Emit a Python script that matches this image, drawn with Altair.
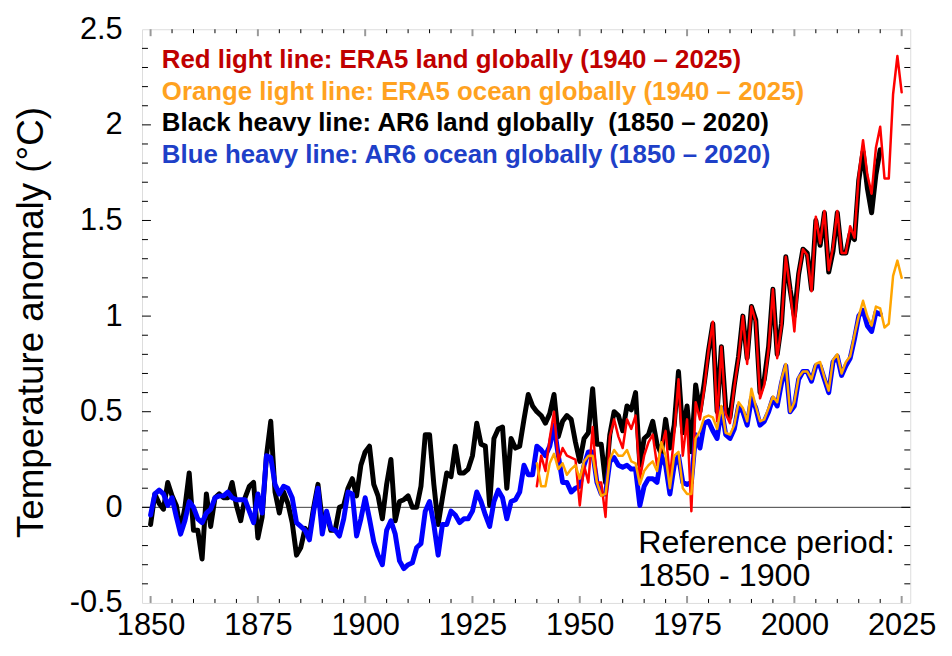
import altair as alt
import pandas as pd

# ---------------- data ----------------
ar6_years = list(range(1850, 2021))
ar6_land = [
    -0.09, 0.07, 0.02, -0.01, 0.13, 0.06, 0.01, -0.12, 0.00, 0.18,      # 1850-1859
    -0.12, -0.12, -0.27, 0.07, -0.10, 0.05, 0.07, 0.05, 0.05, 0.13,     # 1860-1869
    0.01, -0.07, 0.05, 0.11, 0.13, -0.16, -0.05, 0.27, 0.45, 0.08,      # 1870-1879
    -0.03, 0.08, 0.02, -0.08, -0.25, -0.21, -0.11, -0.14, 0.00, 0.12,   # 1880-1889
    -0.07, -0.03, -0.12, -0.12, 0.00, 0.01, 0.10, 0.15, 0.06, 0.22,     # 1890-1899
    0.29, 0.32, 0.12, 0.06, -0.06, 0.12, 0.25, -0.07, 0.03, 0.04,       # 1900-1909
    0.06, 0.00, 0.00, 0.11, 0.38, 0.38, 0.12, -0.09, 0.05, 0.18,        # 1910-1919
    0.16, 0.32, 0.18, 0.18, 0.20, 0.27, 0.44, 0.33, 0.32, 0.01,         # 1920-1929
    0.36, 0.41, 0.42, 0.10, 0.36, 0.31, 0.32, 0.46, 0.59, 0.53,         # 1930-1939
    0.50, 0.48, 0.44, 0.49, 0.59, 0.37, 0.45, 0.48, 0.46, 0.34,         # 1940-1949
    0.24, 0.36, 0.39, 0.62, 0.33, 0.33, 0.13, 0.38, 0.50, 0.48,         # 1950-1959
    0.40, 0.53, 0.51, 0.60, 0.22, 0.36, 0.38, 0.45, 0.33, 0.28,         # 1960-1969
    0.46, 0.31, 0.43, 0.71, 0.39, 0.53, 0.29, 0.64, 0.50, 0.65,         # 1970-1979
    0.82, 0.96, 0.50, 0.84, 0.52, 0.47, 0.64, 0.79, 1.00, 0.78,         # 1980-1989
    1.05, 0.98, 0.60, 0.67, 0.84, 1.14, 0.80, 0.96, 1.31, 1.14,         # 1990-1999
    1.00, 1.22, 1.35, 1.33, 1.14, 1.50, 1.37, 1.54, 1.23, 1.34,         # 2000-2009
    1.54, 1.33, 1.33, 1.43, 1.40, 1.71, 1.86, 1.67, 1.54, 1.74,         # 2010-2019
    1.87,                                                               # 2020
]
ar6_ocean = [
    -0.04, 0.07, 0.09, 0.07, 0.01, 0.05, -0.05, -0.14, -0.07, 0.03,     # 1850-1859
    0.00, -0.06, -0.08, -0.03, -0.01, 0.05, 0.06, 0.06, 0.08, 0.05,     # 1860-1869
    0.04, 0.04, 0.04, -0.02, -0.08, 0.07, -0.03, 0.27, 0.26, 0.12,      # 1870-1879
    0.07, 0.11, 0.10, 0.05, -0.08, -0.10, -0.12, -0.17, -0.02, 0.10,    # 1880-1889
    -0.14, -0.02, -0.11, -0.12, -0.15, -0.06, 0.08, 0.07, -0.15, -0.06, # 1890-1899
    0.05, -0.06, -0.18, -0.25, -0.30, -0.12, -0.07, -0.14, -0.28, -0.32,# 1900-1909
    -0.30, -0.29, -0.21, -0.19, -0.02, 0.03, -0.09, -0.25, -0.09, -0.09,# 1910-1919
    -0.02, -0.04, -0.08, -0.06, -0.06, -0.02, 0.08, 0.03, -0.04, -0.10, # 1920-1929
    0.03, 0.09, 0.05, -0.06, 0.03, 0.04, 0.08, 0.22, 0.17, 0.17,        # 1930-1939
    0.32, 0.30, 0.27, 0.32, 0.43, 0.27, 0.13, 0.13, 0.08, 0.10,         # 1940-1949
    0.11, 0.22, 0.29, 0.29, 0.13, 0.07, 0.07, 0.24, 0.26, 0.22,         # 1950-1959
    0.21, 0.22, 0.20, 0.20, 0.01, 0.11, 0.15, 0.15, 0.13, 0.27,         # 1960-1969
    0.22, 0.07, 0.22, 0.27, 0.13, 0.12, 0.13, 0.38, 0.31, 0.44,         # 1970-1979
    0.45, 0.40, 0.36, 0.52, 0.38, 0.36, 0.41, 0.53, 0.50, 0.43,         # 1980-1989
    0.57, 0.52, 0.43, 0.45, 0.50, 0.57, 0.53, 0.65, 0.74, 0.50,         # 1990-1999
    0.53, 0.67, 0.71, 0.71, 0.66, 0.74, 0.74, 0.67, 0.60, 0.76,         # 2000-2009
    0.79, 0.69, 0.74, 0.78, 0.88, 1.00, 1.03, 0.95, 0.92, 1.02,         # 2010-2019
    1.01,                                                               # 2020
]
era5_years = list(range(1940, 2026))
era5_land = [
    0.11, 0.27, 0.19, 0.36, 0.50, 0.24, 0.31, 0.27, 0.26, 0.25,         # 1940-1949
    0.01, 0.22, 0.13, 0.42, 0.13, 0.13, -0.05, 0.37, 0.46, 0.37,        # 1950-1959
    0.31, 0.46, 0.41, 0.48, 0.15, 0.27, 0.34, 0.38, 0.22, 0.31,         # 1960-1969
    0.40, 0.15, 0.38, 0.67, 0.27, 0.46, -0.02, 0.55, 0.46, 0.62,        # 1970-1979
    0.82, 0.97, 0.45, 0.84, 0.49, 0.44, 0.63, 0.78, 1.00, 0.75,         # 1980-1989
    1.05, 0.97, 0.57, 0.64, 0.83, 1.14, 0.78, 0.95, 1.31, 1.14,         # 1990-1999
    0.92, 1.22, 1.35, 1.32, 1.13, 1.52, 1.38, 1.55, 1.24, 1.36,         # 2000-2009
    1.55, 1.33, 1.33, 1.47, 1.41, 1.74, 1.92, 1.74, 1.64, 1.88,         # 2010-2019
    1.99, 1.72, 1.72, 2.16, 2.36, 2.17,                                 # 2020-2025
]
era5_ocean = [
    0.23, 0.11, 0.11, 0.23, 0.28, 0.20, 0.23, 0.17, 0.20, 0.22,         # 1940-1949
    0.15, 0.24, 0.27, 0.27, 0.13, 0.06, 0.07, 0.25, 0.30, 0.27,         # 1950-1959
    0.27, 0.30, 0.24, 0.23, 0.12, 0.19, 0.22, 0.24, 0.19, 0.34,         # 1960-1969
    0.27, 0.10, 0.27, 0.29, 0.10, 0.07, 0.07, 0.36, 0.40, 0.47,         # 1970-1979
    0.48, 0.47, 0.41, 0.53, 0.39, 0.38, 0.43, 0.55, 0.52, 0.45,         # 1980-1989
    0.62, 0.53, 0.45, 0.46, 0.52, 0.58, 0.55, 0.67, 0.75, 0.50,         # 1990-1999
    0.55, 0.68, 0.71, 0.71, 0.67, 0.75, 0.76, 0.68, 0.61, 0.77,         # 2000-2009
    0.80, 0.70, 0.76, 0.79, 0.90, 1.00, 1.08, 1.00, 0.95, 1.05,         # 2010-2019
    1.04, 0.94, 0.96, 1.21, 1.29, 1.20,                                 # 2020-2025
]
assert len(ar6_land) == len(ar6_years) == len(ar6_ocean)
assert len(era5_land) == len(era5_years) == len(era5_ocean)

x_label_values = [1850, 1875, 1900, 1925, 1950, 1975, 2000, 2025]
x_minor_ticks = [1855, 1860, 1865, 1870, 1880, 1885, 1890, 1895, 1905, 1910,
                 1915, 1920, 1930, 1935, 1940, 1945, 1955, 1960, 1965, 1970,
                 1980, 1985, 1990, 1995, 2005, 2010, 2015, 2020]
y_label_values = [-0.5, 0, 0.5, 1, 1.5, 2, 2.5]
y_major_ticks = [0, 0.5, 1, 1.5, 2]
y_minor_ticks = [-0.4, -0.3, -0.2, -0.1, 0.1, 0.2, 0.3, 0.4, 0.6, 0.7, 0.8, 0.9,
                 1.1, 1.2, 1.3, 1.4, 1.6, 1.7, 1.8, 1.9, 2.1, 2.2, 2.3, 2.4]

legend_lines = [
    "Red light line: ERA5 land globally (1940 \u2013 2025)",
    "Orange light line: ERA5 ocean globally (1940 \u2013 2025)",
    "Black heavy line: AR6 land globally \u00a0(1850 \u2013 2020)",
    "Blue heavy line: AR6 ocean globally (1850 \u2013 2020)",
]
legend_colors = ["#C00000", "#FFA21F", "#000000", "#1E40C8"]
ref_lines = ["Reference period:", "1850 - 1900"]

# ---------------- chart ----------------
W, H = 774, 578
FONT = "Liberation Sans"

xs = alt.Scale(domain=[1848, 2027], nice=False, zero=False)
ys = alt.Scale(domain=[-0.5, 2.5], nice=False, zero=False)

x_axis = alt.Axis(values=x_label_values, format="d", title=None, labelFontSize=31,
                  labelFont=FONT, labelColor="black", labelPadding=8, ticks=False,
                  domain=False, grid=False, labelFlush=False, labelOverlap=False)
y_axis = alt.Axis(values=y_label_values, labelExpr="toString(datum.value)",
                  title="Temperature anomaly (\u00b0C)", titleFontSize=37,
                  titleFont=FONT, titleFontWeight="normal", titleColor="black",
                  titleX=-111, titleY=295, titleAngle=-90, titleBaseline="middle",
                  titleAlign="center",
                  labelFontSize=31, labelFont=FONT, labelColor="black",
                  labelPadding=20, ticks=False, domain=False, grid=False,
                  labelFlush=False, labelOverlap=False)

X = lambda f: alt.X(f, type="quantitative", scale=xs, axis=x_axis)
Y = lambda f: alt.Y(f, type="quantitative", scale=ys, axis=y_axis)

land_df = pd.DataFrame({"year": ar6_years, "value": ar6_land})
ocean_df = pd.DataFrame({"year": ar6_years, "value": ar6_ocean})
e_land_df = pd.DataFrame({"year": era5_years, "value": era5_land})
e_ocean_df = pd.DataFrame({"year": era5_years, "value": era5_ocean})

zero_line = alt.Chart(pd.DataFrame({"v": [0]})).mark_rule(
    color="#404040", strokeWidth=1).encode(y=Y("v"))


def line(df, color, width):
    return alt.Chart(df).mark_line(color=color, strokeWidth=width,
                                   strokeJoin="round", strokeCap="round").encode(
        x=X("year"), y=Y("value"))


black = line(land_df, "#000000", 5)
blue = line(ocean_df, "#0000FF", 5)
red = line(e_land_df, "#FF0000", 2.5)
orange = line(e_ocean_df, "#FFA500", 2.5)

# inward ticks on all four sides
xmin_df = pd.DataFrame({"year": x_minor_ticks})
xmaj_df = pd.DataFrame({"year": x_label_values})
ymin_df = pd.DataFrame({"v": y_minor_ticks})
ymaj_df = pd.DataFrame({"v": y_major_ticks})

tick_layers = [
    alt.Chart(xmin_df).mark_rule(color="black", strokeWidth=1).encode(
        x=X("year"), y=alt.value(H), y2=alt.value(H - 4)),
    alt.Chart(xmin_df).mark_rule(color="black", strokeWidth=1).encode(
        x=X("year"), y=alt.value(0), y2=alt.value(4)),
    alt.Chart(xmaj_df).mark_rule(color="#999999", strokeWidth=2).encode(
        x=X("year"), y=alt.value(H), y2=alt.value(H - 7)),
    alt.Chart(xmaj_df).mark_rule(color="#999999", strokeWidth=2).encode(
        x=X("year"), y=alt.value(0), y2=alt.value(7)),
    alt.Chart(ymin_df).mark_rule(color="black", strokeWidth=1).encode(
        y=Y("v"), x=alt.value(0), x2=alt.value(6)),
    alt.Chart(ymin_df).mark_rule(color="black", strokeWidth=1).encode(
        y=Y("v"), x=alt.value(W), x2=alt.value(W - 6)),
    alt.Chart(ymaj_df).mark_rule(color="black", strokeWidth=1).encode(
        y=Y("v"), x=alt.value(0), x2=alt.value(9)),
    alt.Chart(ymaj_df).mark_rule(color="black", strokeWidth=1).encode(
        y=Y("v"), x=alt.value(W), x2=alt.value(W - 9)),
]

text_layers = []
for i, (txt, col) in enumerate(zip(legend_lines, legend_colors)):
    text_layers.append(
        alt.Chart(pd.DataFrame({"t": [txt]})).mark_text(
            align="left", baseline="middle", font=FONT, fontSize=26,
            fontWeight="bold", color=col).encode(
            text="t:N", x=alt.value(20), y=alt.value(31 + 32 * i)))

for i, txt in enumerate(ref_lines):
    text_layers.append(
        alt.Chart(pd.DataFrame({"t": [txt]})).mark_text(
            align="left", baseline="middle", font=FONT, fontSize=32.5,
            color="black").encode(
            text="t:N", x=alt.value(500), y=alt.value(518 + 33 * i)))

chart = alt.layer(
    zero_line, *tick_layers, black, blue, red, orange, *text_layers
).properties(
    width=W, height=H,
    autosize=alt.AutoSizeParams(type="none"),
    padding={"left": 135, "top": 19, "right": 34, "bottom": 45},
).configure_view(
    stroke="#999999", strokeWidth=2
).configure(background="white")

chart.save("out.html", embed_options={"renderer": "svg", "actions": False})
